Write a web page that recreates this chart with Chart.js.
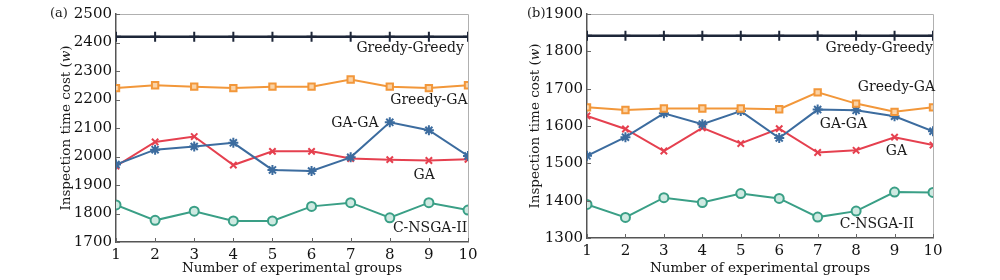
<!DOCTYPE html>
<html>
<head>
<meta charset="utf-8">
<script src="https://cdn.jsdelivr.net/npm/chart.js@4.4.1/dist/chart.umd.min.js"></script>
<style>
  html, body { margin: 0; padding: 0; background: #fff; }
  #wrap { position: relative; width: 1000px; height: 280px; overflow: hidden; }
  canvas { position: absolute; top: 0; }
  .tag { position: absolute; font-family: "DejaVu Serif", serif; font-size: 13px; color: #1a1a1a; }
</style>
</head>
<body>
<div id="wrap">
  <canvas id="ca" width="495" height="280" style="left:0px"></canvas>
  <canvas id="cb" width="505" height="280" style="left:495px"></canvas>
  <div class="tag" style="left:50px; top:5px;">(a)</div>
  <div class="tag" style="left:527px; top:5px;">(b)</div>
</div>
<script>
// ---- data ----
const groups = [1, 2, 3, 4, 5, 6, 7, 8, 9, 10];
const seriesNames = ["Greedy-Greedy", "Greedy-GA", "GA-GA", "GA", "C-NSGA-II"];

// panel (a)
const greedyGreedyA = [2420, 2420, 2420, 2420, 2420, 2420, 2420, 2420, 2420, 2420];
const greedyGAA     = [2240, 2250, 2245, 2240, 2245, 2245, 2270, 2245, 2240, 2250];
const gaGAA         = [1972, 2024, 2035, 2048, 1953, 1949, 1997, 2120, 2092, 2002];
const gaA           = [1966, 2051, 2070, 1970, 2018, 2018, 1993, 1989, 1986, 1990];
const cnsgaA        = [1830, 1776, 1808, 1774, 1774, 1825, 1838, 1785, 1838, 1812];
const yTicksA = [1700, 1800, 1900, 2000, 2100, 2200, 2300, 2400, 2500];

// panel (b)
const greedyGreedyB = [1842, 1842, 1842, 1842, 1842, 1842, 1842, 1842, 1842, 1842];
const greedyGAB     = [1650, 1643, 1647, 1647, 1647, 1645, 1690, 1660, 1638, 1650];
const gaGAB         = [1520, 1570, 1634, 1605, 1640, 1568, 1644, 1642, 1626, 1586];
const gaB           = [1627, 1592, 1533, 1595, 1553, 1593, 1529, 1535, 1570, 1549];
const cnsgaB        = [1390, 1355, 1408, 1395, 1419, 1406, 1356, 1372, 1423, 1422];
const yTicksB = [1300, 1400, 1500, 1600, 1700, 1800, 1900];

// axis titles
const xTitle = "Number of experimental groups";
const yTitleMain = "Inspection time cost (";
const yTitleVar = "w";
const yTitleEnd = ")";

// in-plot series labels (data coordinates)
const labelsA = [
  { text: "Greedy-Greedy", x: 8.52, y: 2381 },
  { text: "Greedy-GA",     x: 9.0,  y: 2198 },
  { text: "GA-GA",         x: 7.11, y: 2116 },
  { text: "GA",            x: 8.88, y: 1935 },
  { text: "C-NSGA-II",     x: 9.03, y: 1748 }
];
const labelsB = [
  { text: "Greedy-Greedy", x: 8.6,  y: 1808 },
  { text: "Greedy-GA",     x: 9.05, y: 1703 },
  { text: "GA-GA",         x: 7.67, y: 1605 },
  { text: "GA",            x: 9.05, y: 1533 },
  { text: "C-NSGA-II",     x: 8.54, y: 1337 }
];

// ---- styles ----
const FONT = "DejaVu Serif";
const styles = [
  { color: "#1d2638", pointStyle: "cross",    radius: 5, bg: "#1d2638", width: 2.5 },
  { color: "#f2973a", pointStyle: "rect",     radius: 4.5, bg: "#fbd3a6", width: 2 },
  { color: "#3c6c9f", pointStyle: "star",     radius: 5, bg: "#3c6c9f", width: 2 },
  { color: "#e5404f", pointStyle: "crossRot", radius: 4.5, bg: "#e5404f", width: 2 },
  { color: "#3a9f86", pointStyle: "circle",   radius: 4.5, bg: "#cfeae2", width: 2 }
];

function toXY(vals) { return vals.map((v, i) => ({ x: groups[i], y: v })); }

function makeDatasets(arrs) {
  return arrs.map((vals, k) => ({
    label: seriesNames[k],
    data: toXY(vals),
    borderColor: styles[k].color,
    backgroundColor: styles[k].bg,
    borderWidth: styles[k].width,
    pointStyle: styles[k].pointStyle,
    pointRadius: styles[k].radius,
    pointBorderWidth: 2,
    pointBorderColor: styles[k].color,
    pointBackgroundColor: styles[k].bg,
    tension: 0
  }));
}

const boxPlugin = {
  id: "boxAndLabels",
  afterDatasetsDraw(chart, args, opts) {
    const { ctx, chartArea: a, scales } = chart;
    ctx.save();
    // light top/right box edges
    ctx.strokeStyle = "#b0b0b0";
    ctx.lineWidth = 1;
    ctx.beginPath();
    ctx.moveTo(a.left, a.top + 0.5); ctx.lineTo(a.right + 0.5, a.top + 0.5); ctx.lineTo(a.right + 0.5, a.bottom);
    ctx.stroke();
    // inward tick marks
    ctx.strokeStyle = "#666";
    ctx.beginPath();
    scales.y.ticks.forEach(t => {
      const py = Math.round(scales.y.getPixelForValue(t.value)) + 0.5;
      ctx.moveTo(a.left, py); ctx.lineTo(a.left + 4, py);
    });
    scales.x.ticks.forEach(t => {
      const px = Math.round(scales.x.getPixelForValue(t.value)) + 0.5;
      ctx.moveTo(px, a.bottom); ctx.lineTo(px, a.bottom - 4);
    });
    ctx.stroke();
    // series labels
    ctx.fillStyle = "#1a1a1a";
    ctx.font = "14px '" + FONT + "'";
    ctx.textAlign = "center";
    ctx.textBaseline = "middle";
    (opts.labels || []).forEach(l => {
      ctx.fillText(l.text, scales.x.getPixelForValue(l.x), scales.y.getPixelForValue(l.y));
    });
    // y-axis title with italic variable
    const fN = "13.5px '" + FONT + "'", fI = "italic 13.5px '" + FONT + "'";
    ctx.font = fN; const w1 = ctx.measureText(yTitleMain).width; const w3 = ctx.measureText(yTitleEnd).width;
    ctx.font = fI; const w2 = ctx.measureText(yTitleVar).width;
    const total = w1 + w2 + w3;
    ctx.translate(opts.yTitleX, (a.top + a.bottom) / 2);
    ctx.rotate(-Math.PI / 2);
    ctx.textAlign = "left";
    let x0 = -total / 2;
    ctx.font = fN; ctx.fillText(yTitleMain, x0, 0);
    ctx.font = fI; ctx.fillText(yTitleVar, x0 + w1, 0);
    ctx.font = fN; ctx.fillText(yTitleEnd, x0 + w1 + w2, 0);
    ctx.restore();
  }
};

function makeChart(id, arrs, yTicks, labels, geom) {
  const yMin = yTicks[0], yMax = yTicks[yTicks.length - 1];
  return new Chart(document.getElementById(id), {
    type: "line",
    data: { datasets: makeDatasets(arrs) },
    plugins: [boxPlugin],
    options: {
      responsive: false,
      animation: false,
      devicePixelRatio: 1,
      layout: { padding: { left: geom.padLeft, right: geom.padRight, top: geom.padTop, bottom: 0 } },
      plugins: {
        legend: { display: false },
        tooltip: { enabled: false },
        boxAndLabels: { labels: labels, yTitleX: geom.yTitleX }
      },
      scales: {
        x: {
          type: "linear",
          min: 1, max: 10,
          afterBuildTicks: s => { s.ticks = groups.map(v => ({ value: v })); },
          afterFit: s => { s.height = geom.xHeight; },
          grid: { display: true, drawOnChartArea: false, drawTicks: false },
          border: { display: true, color: "#555", width: 1.5 },
          ticks: { color: "#111", padding: 4, font: { family: FONT, size: 15 }, maxRotation: 0, autoSkip: false,
                   callback: v => String(v) },
          title: { display: true, text: xTitle, color: "#111",
                   font: { family: FONT, size: 13.5 }, padding: { top: 0, bottom: 3 } }
        },
        y: {
          min: yMin, max: yMax,
          afterBuildTicks: s => { s.ticks = yTicks.map(v => ({ value: v })); },
          afterFit: s => { s.width = geom.yWidth; },
          grid: { display: true, drawOnChartArea: false, drawTicks: false },
          border: { display: true, color: "#555", width: 1.5 },
          ticks: { color: "#111", padding: 4, font: { family: FONT, size: 15 }, callback: v => String(v) },
          title: { display: false }
        }
      }
    }
  });
}

makeChart("ca", [greedyGreedyA, greedyGAA, gaGAA, gaA, cnsgaA], yTicksA, labelsA,
  { padLeft: 56, padRight: 27, padTop: 14, yWidth: 60, xHeight: 38, yTitleX: 66 });
makeChart("cb", [greedyGreedyB, greedyGAB, gaGAB, gaB, cnsgaB], yTicksB, labelsB,
  { padLeft: 30, padRight: 67, padTop: 14, yWidth: 62, xHeight: 42, yTitleX: 40 });
</script>
</body>
</html>
